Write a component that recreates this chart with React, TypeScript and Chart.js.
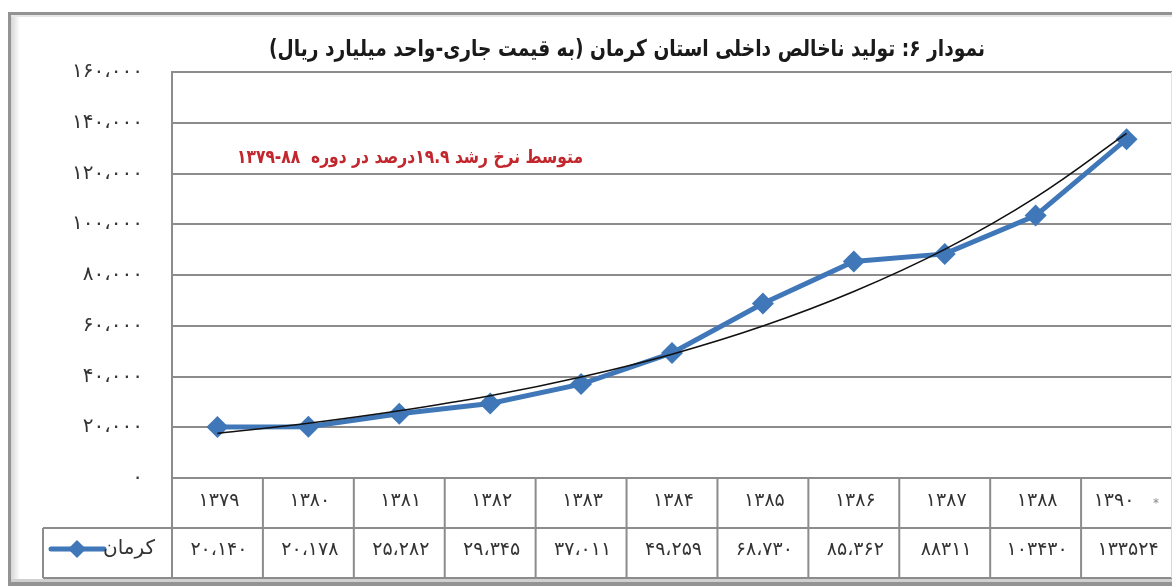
import { useEffect, useRef } from 'react';
import { Chart, registerables } from 'chart.js';

Chart.register(...registerables);

// ---- data ----
const years = ['۱۳۷۹', '۱۳۸۰', '۱۳۸۱', '۱۳۸۲', '۱۳۸۳', '۱۳۸۴', '۱۳۸۵', '۱۳۸۶', '۱۳۸۷', '۱۳۸۸', '۱۳۹۰'];
const kermanValues = [20140, 20178, 25282, 29345, 37011, 49259, 68730, 85362, 88311, 103430, 133524];
const kermanLabels = ['۲۰،۱۴۰', '۲۰،۱۷۸', '۲۵،۲۸۲', '۲۹،۳۴۵', '۳۷،۰۱۱', '۴۹،۲۵۹', '۶۸،۷۳۰', '۸۵،۳۶۲', '۸۸۳۱۱', '۱۰۳۴۳۰', '۱۳۳۵۲۴'];
// exponential trend line
const trendValues = [17600, 21600, 26500, 32400, 39800, 48800, 59900, 73500, 90100, 110600, 135800];
const yTickLabels = ['۰', '۲۰،۰۰۰', '۴۰،۰۰۰', '۶۰،۰۰۰', '۸۰،۰۰۰', '۱۰۰،۰۰۰', '۱۲۰،۰۰۰', '۱۴۰،۰۰۰', '۱۶۰،۰۰۰'];
const seriesName = 'کرمان';
const lastYearNote = '*';
const chartTitle = 'نمودار ۶: تولید ناخالص داخلی استان کرمان (به قیمت جاری-واحد میلیارد ریال)';
const noteText = 'متوسط نرخ رشد ۱۹.۹درصد در دوره  ۸۸-۱۳۷۹';

const W = 1172;
const H = 586;
const BLUE = '#3f77b8';
const GRID = '#8c8c8c';
const FONT = '"DejaVu Sans", sans-serif';

const framePlugin = {
  id: 'frame',
  beforeDraw(chart: any) {
    const ctx = chart.ctx;
    ctx.save();
    ctx.fillStyle = '#ffffff';
    ctx.fillRect(0, 0, W, H);
    const g = ctx.createLinearGradient(11, 0, 20, 0);
    g.addColorStop(0, '#d6d6d6');
    g.addColorStop(1, '#ffffff');
    ctx.fillStyle = g;
    ctx.fillRect(11, 15, 9, 565);
    ctx.fillStyle = '#d0d0d0';
    ctx.fillRect(11, 579, W, 3);
    ctx.fillStyle = '#e6e6e6';
    ctx.fillRect(11, 15, W, 2);
    ctx.fillStyle = '#939393';
    ctx.fillRect(8, 12, 3, 572);
    ctx.fillRect(8, 12, W, 3);
    ctx.fillRect(8, 582, W, 4);
    ctx.restore();
  },
};

const tablePlugin = {
  id: 'tableAndText',
  afterDraw(chart: any) {
    const ctx = chart.ctx;
    const area = chart.chartArea;
    const xs = chart.scales.x;
    const n = years.length;
    const colW = (area.right - area.left) / n;
    const top = area.bottom;
    const mid = top + 50;
    const bot = top + 100;
    const legendLeft = 43;

    ctx.save();
    // faint right edge of plot area
    ctx.fillStyle = '#e2e2e2';
    ctx.fillRect(area.right - 1, area.top, 1, area.bottom - area.top);

    // title
    ctx.fillStyle = '#1a1a1a';
    ctx.font = `bold 23px ${FONT}`;
    ctx.textAlign = 'center';
    ctx.textBaseline = 'middle';
    ctx.direction = 'rtl';
    ctx.fillText(chartTitle, 627, 50, 716);

    // note
    ctx.fillStyle = '#c1272d';
    ctx.font = `bold 19px ${FONT}`;
    ctx.fillText(noteText, 410, 158, 346);

    // table lines
    ctx.strokeStyle = GRID;
    ctx.lineWidth = 2;
    ctx.beginPath();
    ctx.moveTo(legendLeft, mid);
    ctx.lineTo(area.right, mid);
    ctx.moveTo(legendLeft, bot);
    ctx.lineTo(area.right, bot);
    ctx.moveTo(legendLeft, mid);
    ctx.lineTo(legendLeft, bot);
    for (let i = 0; i < n; i++) {
      const x = xs.getPixelForValue(i) - colW / 2;
      ctx.moveTo(x, top);
      ctx.lineTo(x, bot);
    }
    ctx.stroke();
    ctx.fillStyle = '#d8d8d8';
    ctx.fillRect(area.right - 1, top, 1, bot - top);

    // table text
    ctx.direction = 'ltr';
    ctx.fillStyle = '#333333';
    ctx.font = `19px ${FONT}`;
    (ctx as any).letterSpacing = '3px';
    ctx.textAlign = 'center';
    for (let i = 0; i < n; i++) {
      const cx = xs.getPixelForValue(i) + 1.5;
      if (i === n - 1) {
        ctx.fillText(years[i], cx - 14, (top + mid) / 2 - 2);
        ctx.save();
        (ctx as any).letterSpacing = '0px';
        ctx.fillStyle = '#888888';
        ctx.font = `12px ${FONT}`;
        ctx.fillText(lastYearNote, cx + 28, (top + mid) / 2 + 1);
        ctx.restore();
      } else {
        ctx.fillText(years[i], cx, (top + mid) / 2 - 2);
      }
      ctx.fillText(kermanLabels[i], cx, (mid + bot) / 2 - 3);
    }
    (ctx as any).letterSpacing = '0px';

    // legend key
    const ly = (mid + bot) / 2 - 4;
    ctx.strokeStyle = BLUE;
    ctx.lineWidth = 5;
    ctx.lineCap = 'round';
    ctx.beginPath();
    ctx.moveTo(51, ly);
    ctx.lineTo(104, ly);
    ctx.stroke();
    ctx.fillStyle = BLUE;
    ctx.beginPath();
    ctx.moveTo(77, ly - 9);
    ctx.lineTo(86, ly);
    ctx.lineTo(77, ly + 9);
    ctx.lineTo(68, ly);
    ctx.closePath();
    ctx.fill();
    ctx.fillStyle = '#333333';
    ctx.font = `20px ${FONT}`;
    ctx.textAlign = 'right';
    ctx.direction = 'rtl';
    ctx.fillText(seriesName, 155, ly);
    ctx.restore();
  },
};

export default function App() {
  const ref = useRef<HTMLCanvasElement | null>(null);
  useEffect(() => {
    if (!ref.current) return;
    const chart = new Chart(ref.current, {
      type: 'line',
      data: {
        labels: years,
        datasets: [
          {
            label: 'trend',
            data: trendValues,
            borderColor: '#111111',
            borderWidth: 1.6,
            pointRadius: 0,
            tension: 0.4,
            fill: false,
            order: 0,
          },
          {
            label: seriesName,
            data: kermanValues,
            borderColor: BLUE,
            backgroundColor: BLUE,
            borderWidth: 5,
            pointStyle: 'rectRot',
            pointRadius: 11,
            pointBorderWidth: 0,
            pointBackgroundColor: BLUE,
            tension: 0,
            fill: false,
            order: 1,
          },
        ],
      },
      options: {
        animation: false,
        responsive: false,
        devicePixelRatio: 1,
        layout: { autoPadding: false, padding: { left: 0, top: 72, right: 0, bottom: 108 } },
        plugins: {
          legend: { display: false },
          title: { display: false },
          tooltip: { enabled: false },
        },
        scales: {
          x: {
            type: 'category',
            offset: true,
            display: false,
            grid: { display: false },
          },
          y: {
            min: 0,
            max: 160000,
            afterFit(scale: any) {
              scale.width = 172;
            },
            border: { display: true, color: GRID, width: 2 },
            grid: { color: GRID, lineWidth: 2, drawTicks: false },
            ticks: {
              stepSize: 20000,
              padding: 29,
              color: '#333333',
              font: { family: FONT, size: 20 },
              callback: (_v: any, i: number) => yTickLabels[i],
            },
          },
        },
      },
      plugins: [framePlugin, tablePlugin],
    });
    return () => chart.destroy();
  }, []);
  return (
    <div style={{ position: 'fixed', left: 0, top: 0, width: W, height: H, background: '#fff' }}>
      <canvas ref={ref} width={W} height={H} style={{ display: 'block' }} />
    </div>
  );
}
